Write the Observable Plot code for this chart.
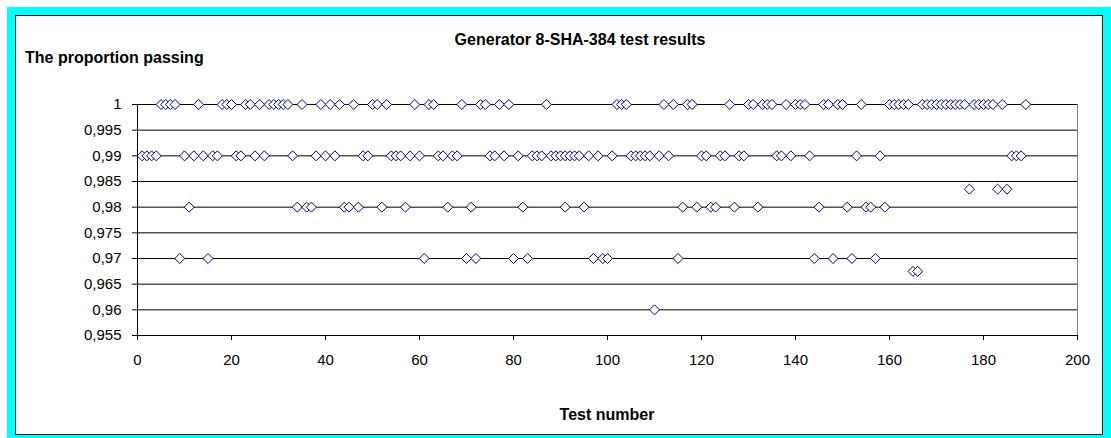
<!DOCTYPE html>
<html>
<head>
<meta charset="utf-8">
<script src="https://cdn.jsdelivr.net/npm/d3@7"></script>
<script src="https://cdn.jsdelivr.net/npm/@observablehq/plot@0.6"></script>
<style>
  html, body { margin: 0; padding: 0; background: #fff; }
  #page { position: relative; width: 1111px; height: 438px; overflow: hidden; background: #fff;
          font-family: "Liberation Sans", Arial, sans-serif; }
  #frame { position: absolute; left: 7px; top: 7px; width: 1088px; height: 420px;
           border: 8px solid #00ffff; }
  #inner { position: absolute; left: 0; top: 0; width: 1088px; height: 420px; box-sizing: border-box;
           border: 1px solid #1a1a1a; }
  #chart { position: absolute; left: 0; top: 0; }
  .t { position: absolute; font-weight: bold; font-size: 16px; line-height: 16px; color: #000; white-space: nowrap; }
</style>
</head>
<body>
<div id="page">
  <div id="frame"><div id="inner"></div></div>
  <div id="chart"></div>
  <div class="t" id="title" style="left:0;width:1160px;text-align:center;top:32px;">Generator 8-SHA-384 test results</div>
  <div class="t" id="ylab" style="left:25px;top:50px;">The proportion passing</div>
  <div class="t" id="xlab" style="left:0;width:1214px;text-align:center;top:407px;">Test number</div>
</div>
<script>
// Test numbers at each observed proportion level
const testsAt1000 = [5,6,7,8,13,18,19,20,23,24,26,28,29,30,31,32,35,39,41,43,46,50,51,53,59,62,63,69,73,74,77,79,87,102,103,104,112,114,117,118,126,130,131,133,134,135,138,140,141,142,146,147,149,150,154,160,161,162,163,164,167,168,169,170,171,172,173,174,175,176,178,179,180,181,182,184,189];
const testsAt0990 = [1,2,3,4,10,12,14,16,17,21,22,25,27,33,38,40,42,48,49,54,55,56,58,60,64,65,67,68,75,76,78,81,84,85,86,88,89,90,91,92,93,94,96,98,101,105,106,107,108,109,111,113,120,121,124,125,128,129,136,137,139,143,153,158,186,187,188];
const testsAt09835 = [177,183,185];
const testsAt0980 = [11,34,36,37,44,45,47,52,57,66,71,82,91,95,116,119,122,123,127,132,145,151,155,156,159];
const testsAt0970 = [9,15,61,70,72,80,83,97,99,100,115,144,148,152,157];
const testsAt09675 = [165,166];
const testsAt0960 = [110];

const levels = [1, 0.99, 0.9835, 0.98, 0.97, 0.9675, 0.96];
const testLists = [testsAt1000, testsAt0990, testsAt09835, testsAt0980, testsAt0970, testsAt09675, testsAt0960];

const yTicks = [0.955, 0.96, 0.965, 0.97, 0.975, 0.98, 0.985, 0.99, 0.995, 1];
const yTickLabels = ["0,955", "0,96", "0,965", "0,97", "0,975", "0,98", "0,985", "0,99", "0,995", "1"];
const xTicks = [0, 20, 40, 60, 80, 100, 120, 140, 160, 180, 200];

const data = levels.flatMap((p, i) => testLists[i].map(t => ({test: t, p})));

const chart = Plot.plot({
  width: 1111,
  height: 438,
  marginLeft: 137,
  marginRight: 34,
  marginTop: 104,
  marginBottom: 103,
  style: { background: "transparent", fontFamily: "Liberation Sans, Arial, sans-serif", fontSize: "15px", color: "#000" },
  x: { domain: [0, 200], ticks: xTicks, tickSize: 5, tickPadding: 14, label: null },
  y: { domain: [0.955, 1], ticks: yTicks, tickFormat: d => yTickLabels[yTicks.indexOf(d)], tickSize: 5, tickPadding: 11, label: null },
  marks: [
    Plot.ruleY(yTicks, { stroke: "#000", strokeWidth: 1 }),
    Plot.ruleX([200], { stroke: "#808080", strokeWidth: 1 }),
    Plot.ruleX([0], { stroke: "#000", strokeWidth: 1 }),
    Plot.dot(data, { x: "test", y: "p", symbol: "diamond2", r: 4.5, stroke: "#000080", fill: "#fff", strokeWidth: 1 })
  ]
});
document.getElementById("chart").appendChild(chart);
</script>
</body>
</html>
